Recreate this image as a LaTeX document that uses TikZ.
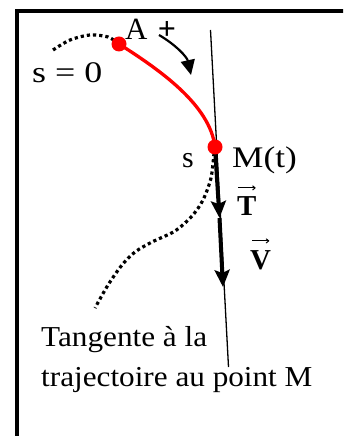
\documentclass[tikz,border=0pt]{standalone}
\usepackage{fontspec}
\setmainfont{Liberation Serif}
\usetikzlibrary{arrows.meta}
\begin{document}
\begin{tikzpicture}[x=1bp,y=-1bp,
  lbl/.style={inner sep=0pt, text=black},
  dotline/.style={line width=3.2bp, dash pattern=on 3.2bp off 3bp},
  thickarrow/.style={line width=4bp, -{Stealth[length=17bp,width=15bp,inset=3bp]}},
  vecarrow/.style={line width=1bp, -{To[length=3.5bp,width=5bp]}},
  reddot/.style={circle, fill=red, minimum size=15bp, inner sep=0pt}
]
\useasboundingbox (0,0) rectangle (343,436);
\clip (0,0) rectangle (343,436);
% frame
\draw[line width=3.5bp] (17,11) rectangle (360,460);
% tangent line
\coordinate (tanTop) at (210.5,30);
\coordinate (tanBot) at (228.5,367);
\draw[line width=1.3bp] (tanTop) -- (tanBot);
% dotted trajectory parts
\draw[dotline] plot[smooth] coordinates {(53,50) (70,40) (90,35) (108,37) (119,44)};
\draw[dotline] plot[smooth] coordinates {(214,153) (211,178) (203,200) (192,216) (175,231) (152,242) (135,252) (122,265) (108,285) (95,308)};
% points
\coordinate (Apt) at (119,44);
\coordinate (Mpt) at (215,147);
% red arc
\draw[red, line width=3.3bp] (Apt) .. controls (160,70) and (210,105) .. (Mpt);
% thick arrows
\coordinate (Ttip) at (219.5,218);
\coordinate (Vtip) at (223,287);
\draw[thickarrow] (Mpt) -- (Ttip);
\draw[thickarrow] (Ttip) -- (Vtip);
\node[reddot] (A) at (Apt) {};
\node[reddot] (M) at (Mpt) {};
% orientation arrow
\coordinate (oriStart) at (159,35);
\coordinate (oriEnd) at (191,75);
\draw[line width=2.2bp, -{Triangle[length=15bp,width=14bp]}] (oriStart) .. controls (176,45) and (187,57) .. (oriEnd);
% labels
\node[lbl, anchor=base west, font=\fontsize{30}{34}\selectfont] (s0) at (32,83) {\scalebox{1.2}[1]{s = 0}};
\node[lbl, anchor=base west, font=\fontsize{31}{36}\selectfont] (Alab) at (125,40) {A};
\node[lbl, anchor=base, font=\fontsize{32}{38}\selectfont\bfseries] (plus) at (167,40) {+};
\node[lbl, anchor=base west, font=\fontsize{30}{34}\selectfont] (slab) at (182,168) {s};
\node[lbl, anchor=base west, font=\fontsize{30}{34}\selectfont] (Mlab) at (232,168) {\scalebox{1.18}[1]{M(t)}};
\node[lbl, anchor=base west, font=\fontsize{29}{34}\selectfont\bfseries] (Tlab) at (237,216) {T};
\node[lbl, anchor=base west, font=\fontsize{29}{34}\selectfont\bfseries] (Vlab) at (250,269) {V};
\draw[vecarrow] ([xshift=1bp,yshift=9bp]Tlab.north west) -- ([xshift=-1bp,yshift=9bp]Tlab.north east);
\draw[vecarrow] ([xshift=2bp,yshift=9bp]Vlab.north west) -- ([xshift=-2bp,yshift=9bp]Vlab.north east);
\node[lbl, anchor=base west, font=\fontsize{29}{34}\selectfont] (tan1) at (41,346) {\scalebox{1.08}[1]{Tangente à la}};
\node[lbl, anchor=base west, font=\fontsize{29}{34}\selectfont] (tan2) at (41,386) {\scalebox{1.08}[1]{trajectoire au point M}};
\end{tikzpicture}
\end{document}
